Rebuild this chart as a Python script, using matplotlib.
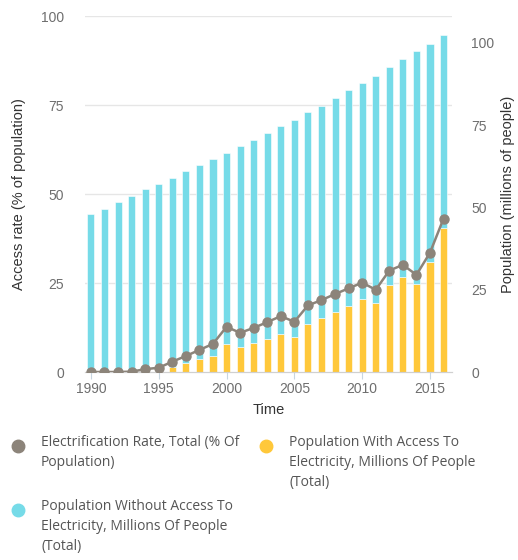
import matplotlib
matplotlib.use("Agg")
import matplotlib.pyplot as plt
from matplotlib.lines import Line2D

years = list(range(1990, 2017))

# Population with access to electricity, millions of people
pop_with = [0.0, 0.0, 0.0, 0.0, 0.1, 0.3, 1.4, 2.6, 3.9, 4.9,
            8.4, 7.5, 8.7, 10.0, 11.7, 10.7, 14.7, 16.3, 18.2, 20.2,
            22.1, 21.0, 26.4, 28.8, 26.7, 33.5, 43.9]

# Total population, millions of people
pop_total = [48.0, 49.6, 51.6, 53.5, 55.5, 57.2, 59.1, 61.0, 62.8, 64.6,
             66.6, 68.6, 70.5, 72.5, 74.7, 76.7, 79.0, 80.9, 83.2, 85.6,
             87.9, 90.1, 92.7, 95.0, 97.6, 99.8, 102.4]

pop_without = [t - w for t, w in zip(pop_total, pop_with)]

# Electrification rate, % of population
access_rate = [0.0, 0.0, 0.0, 0.1, 0.8, 1.2, 2.9, 4.5, 6.2, 7.9,
               12.7, 11.0, 12.4, 14.0, 15.7, 14.1, 18.7, 20.2, 21.9, 23.5,
               25.1, 23.1, 28.5, 30.1, 27.3, 33.5, 43.1]

left_ticks = [0, 25, 50, 75, 100]
right_ticks = [0, 25, 50, 75, 100]
x_ticks = [1990, 1995, 2000, 2005, 2010, 2015]

CYAN = "#76dbe8"
YELLOW = "#ffc83a"
GRAY = "#8c847a"
TICK_COLOR = "#6e6e6e"
GRID_COLOR = "#e6e6e6"

plt.rcParams["font.family"] = ["Liberation Sans", "DejaVu Sans"]

fig = plt.figure(figsize=(5.18, 5.6), dpi=100)
ax_bar = fig.add_axes([0.164, 0.3357, 0.7085, 0.6357])
ax_line = ax_bar.twinx()

# horizontal grid following the left (access rate) scale
for v in left_ticks[1:]:
    ax_bar.axhline(v / 100.0 * 108.2, color=GRID_COLOR, lw=1.0, zorder=0)

bar_w = 0.52
ax_bar.bar(years, pop_with, width=bar_w, color=YELLOW, edgecolor="white",
           linewidth=0.4, zorder=2)
ax_bar.bar(years, pop_without, width=bar_w, bottom=pop_with, color=CYAN,
           edgecolor="white", linewidth=0.4, zorder=2)

ax_line.plot(years, access_rate, color=GRAY, lw=1.8, marker="o",
             markersize=6.5, zorder=3)

ax_bar.set_xlim(1989.56, 2016.62)
ax_bar.set_ylim(0, 108.2)
ax_line.set_ylim(0, 100)

ax_bar.yaxis.tick_right()
ax_bar.yaxis.set_label_position("right")
ax_line.yaxis.tick_left()
ax_line.yaxis.set_label_position("left")

ax_bar.set_yticks(right_ticks)
ax_line.set_yticks(left_ticks)
ax_bar.set_xticks(x_ticks)

for a in (ax_bar, ax_line):
    for s in ("top", "left", "right"):
        a.spines[s].set_visible(False)
    a.spines["bottom"].set_color("#d0d0d0")

ax_bar.tick_params(axis="y", length=0, labelsize=10, labelcolor=TICK_COLOR, pad=14)
ax_line.tick_params(axis="y", length=0, labelsize=10, labelcolor=TICK_COLOR, pad=15)
ax_bar.tick_params(axis="x", length=5, color="#c8d6e0", labelsize=10,
                   labelcolor=TICK_COLOR, pad=2)

ax_line.set_ylabel("Access rate (% of population)", fontsize=10.5,
                   color="#333333", labelpad=11)
ax_bar.set_ylabel("Population (millions of people)", fontsize=10.5,
                  color="#333333", labelpad=5)
ax_bar.set_xlabel("Time", fontsize=10.5, color="#333333", labelpad=5)

# legend
leg_font = dict(fontsize=10, color="#555555", family=["Open Sans", "DejaVu Sans"],
                va="top", linespacing=1.45)
items = [
    (18, 446, GRAY, "Electrification Rate, Total (% Of\nPopulation)"),
    (266, 446, YELLOW, "Population With Access To\nElectricity, Millions Of People\n(Total)"),
    (18, 510, CYAN, "Population Without Access To\nElectricity, Millions Of People\n(Total)"),
]
W, H = 518.0, 560.0
for px, py, col, label in items:
    fig.add_artist(Line2D([px / W], [1 - py / H], marker="o", markersize=9,
                          color=col, linestyle="none", transform=fig.transFigure))
    fig.text((px + 23) / W, 1 - (py - 11) / H, label, **leg_font)

fig.savefig("out.png", dpi=100)
